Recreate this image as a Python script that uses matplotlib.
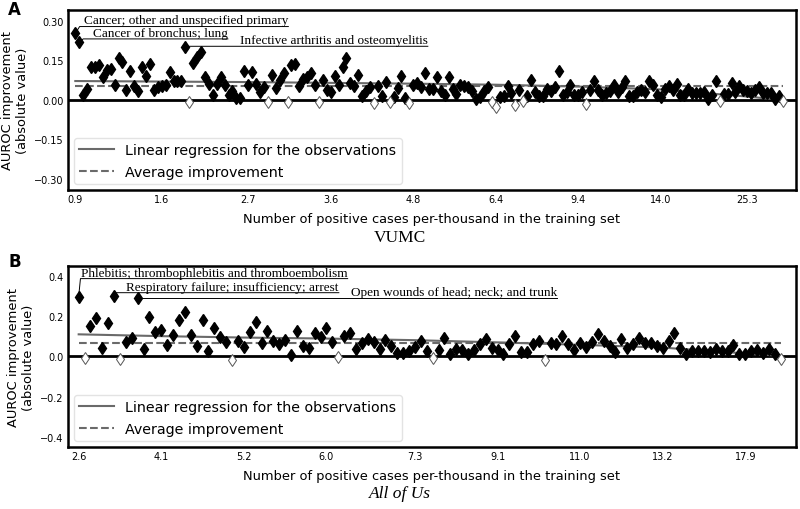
import numpy as np
import matplotlib.pyplot as plt

# VUMC: AUROC improvement per phenotype, ordered by positive cases per-thousand
vumc_values = [
    0.253, 0.219, 0.019, 0.042, 0.127, 0.124, 0.133, 0.086, 0.114, 0.118,
    0.057, 0.158, 0.146, 0.038, 0.111, 0.052, 0.033, 0.127, 0.090, 0.137,
    0.038, 0.048, 0.054, 0.057, 0.105, 0.073, 0.071, 0.071, 0.200, -0.009,
    0.139, 0.162, 0.181, 0.089, 0.061, 0.020, 0.061, 0.086, 0.057, 0.019,
    0.033, 0.008, 0.008, 0.111, 0.057, 0.108, 0.061, 0.029, 0.048, -0.008,
    0.095, 0.046, 0.076, 0.103, -0.009, 0.133, 0.137, 0.052, 0.080, 0.089,
    0.103, 0.058, -0.009, 0.076, 0.038, 0.032, 0.092, 0.058, 0.124, 0.158,
    0.065, 0.052, 0.096, 0.016, 0.035, 0.048, -0.012, 0.054, 0.016, 0.070,
    -0.007, 0.013, 0.046, 0.092, 0.008, -0.012, 0.058, 0.063, 0.051, 0.101,
    0.042, 0.042, 0.086, 0.035, 0.020, 0.089, 0.042, 0.023, 0.058, 0.054,
    0.051, 0.033, 0.004, 0.013, 0.033, 0.051, -0.009, -0.028, 0.010, 0.016,
    0.054, 0.027, -0.018, 0.038, -0.003, 0.016, 0.076, 0.032, 0.016, 0.016,
    0.042, 0.033, 0.050, 0.112, 0.019, 0.032, 0.058, 0.019, 0.019, 0.029,
    -0.015, 0.039, 0.071, 0.038, 0.020, 0.025, 0.035, 0.057, 0.032, 0.051,
    0.071, 0.014, 0.014, 0.029, 0.038, 0.029, 0.071, 0.058, 0.019, 0.013,
    0.042, 0.054, 0.038, 0.061, 0.020, 0.020, 0.042, 0.027, 0.027, 0.027,
    0.032, 0.004, 0.019, 0.071, -0.003, 0.023, 0.023, 0.065, 0.029, 0.052,
    0.038, 0.033, 0.027, 0.038, 0.048, 0.027, 0.027, 0.027, 0.004, 0.016,
    -0.005,
]
vumc_tick_pos = [0, 22, 44, 65, 86, 107, 128, 149, 171]
vumc_tick_labels = ["0.9", "1.6", "2.7", "3.6", "4.8", "6.4", "9.4", "14.0", "25.3"]
vumc_reg_pos = [0, 22, 44, 65, 86, 107, 128, 149, 171, 180]
vumc_reg_val = [0.072, 0.070, 0.068, 0.065, 0.062, 0.058, 0.051, 0.040, 0.013, 0.0]
vumc_avg = 0.053
vumc_notes = [
    # point index, text, text start, line start, line height
    (0, "Cancer; other and unspecified primary", 2.2, 1.1, 0.279),
    (1, "Cancer of bronchus; lung", 4.5, 2.0, 0.232),
    (28, "Infective arthritis and osteomyelitis", 41.9, 29.1, 0.204),
]

# All of Us
aou_values = [
    0.298, -0.010, 0.153, 0.190, 0.040, 0.167, 0.303, -0.013, 0.073, 0.090,
    0.290, 0.037, 0.195, 0.123, 0.132, 0.057, 0.108, 0.183, 0.223, 0.108,
    0.053, 0.182, 0.028, 0.142, 0.098, 0.073, -0.017, 0.075, 0.048, 0.120,
    0.170, 0.067, 0.125, 0.078, 0.062, 0.083, 0.009, 0.126, 0.052, 0.044,
    0.117, 0.097, 0.142, 0.072, -0.004, 0.104, 0.115, 0.036, 0.067, 0.087,
    0.072, 0.039, 0.082, 0.053, 0.018, 0.019, 0.025, 0.046, 0.076, 0.026,
    -0.008, 0.030, 0.093, 0.010, 0.038, 0.030, 0.013, 0.030, 0.060, 0.088,
    0.043, 0.030, 0.010, 0.060, 0.102, 0.022, 0.022, 0.063, 0.077, -0.017,
    0.068, 0.060, 0.102, 0.063, 0.033, 0.067, 0.047, 0.072, 0.110, 0.077,
    0.052, 0.022, 0.088, 0.042, 0.063, 0.093, 0.067, 0.067, 0.050, 0.042,
    0.077, 0.117, 0.042, 0.010, 0.027, 0.027, 0.027, 0.022, 0.038, 0.025,
    0.025, 0.058, 0.013, 0.010, 0.025, 0.030, 0.018, 0.035, 0.013, -0.012,
]
aou_tick_pos = [0, 14, 28, 42, 57, 71, 85, 99, 113]
aou_tick_labels = ["2.6", "4.1", "5.2", "6.0", "7.3", "9.1", "11.0", "13.2", "17.9"]
aou_reg_pos = [0, 14, 28, 42, 57, 71, 85, 99, 113, 119]
aou_reg_val = [0.110, 0.101, 0.094, 0.089, 0.081, 0.070, 0.058, 0.044, 0.015, 0.003]
aou_avg = 0.067
aou_notes = [
    (0, "Phlebitis; thrombophlebitis and thromboembolism", 0.4, 0.3, 0.387),
    (6, "Respiratory failure; insufficiency; arrest", 8.1, 6.4, 0.317),
    (10, "Open wounds of head; neck; and trunk", 46.1, 10.3, 0.290),
]

serif = "Liberation Serif"
fig = plt.figure(figsize=(8, 5.1), dpi=100)
axA = fig.add_axes([0.085, 0.6255, 0.91, 0.353])
axB = fig.add_axes([0.085, 0.1216, 0.91, 0.355])


def draw_panel(ax, values, tick_pos, tick_labels, reg_pos, reg_val, avg, notes,
               xlim, ylim, yticks, yfmt):
    values = np.array(values)
    idx = np.arange(len(values))
    neg = values < 0
    ax.axhline(0, color="black", lw=2, zorder=1)
    ax.plot(idx[~neg], values[~neg], "d", color="black", ms=6.5, zorder=3)
    ax.plot(idx[neg], values[neg], "d", mfc="white", mec="#555555", ms=6,
            mew=0.7, zorder=3)
    ax.plot(reg_pos, reg_val, color="#6a6a6a", lw=1.5, zorder=2,
            label="Linear regression for the observations")
    ax.plot([0, len(values) - 1], [avg, avg], color="#6a6a6a", lw=1.5, ls="--",
            zorder=2, label="Average improvement")
    ax.set_xlim(*xlim)
    ax.set_ylim(*ylim)
    ax.set_xticks(tick_pos)
    ax.set_xticklabels(tick_labels)
    ax.set_yticks(yticks)
    ax.set_yticklabels([yfmt.format(v).replace("-", "\u2212") for v in yticks])
    ax.tick_params(length=0, labelsize=7, pad=3)
    for s in ax.spines.values():
        s.set_linewidth(1.8)
    ax.set_xlabel("Number of positive cases per-thousand in the training set",
                  fontsize=9.4, labelpad=6)
    ax.set_ylabel("AUROC improvement\n(absolute value)", fontsize=9.4, labelpad=4)
    ax.legend(loc="lower left", fontsize=10.3, handlelength=2.4,
              edgecolor="#dddddd", borderaxespad=0.4)

    for i, text, xt, xl, yl in notes:
        t = ax.annotate(text, xy=(xt, yl), xytext=(0, 2.2),
                        textcoords="offset points", va="baseline",
                        family=serif, fontsize=9.5)
        fig.canvas.draw()
        bb = t.get_window_extent().transformed(ax.transData.inverted())
        ax.plot([i, xl, bb.x1], [values[i], yl, yl], color="black", lw=0.7,
                zorder=2)


draw_panel(axA, vumc_values, vumc_tick_pos, vumc_tick_labels, vumc_reg_pos,
           vumc_reg_val, vumc_avg, vumc_notes, (-1.86, 183.4), (-0.342, 0.342),
           [-0.30, -0.15, 0.0, 0.15, 0.30], "{:.2f}")
draw_panel(axB, aou_values, aou_tick_pos, aou_tick_labels, aou_reg_pos,
           aou_reg_val, aou_avg, aou_notes, (-1.81, 121.6), (-0.45, 0.45),
           [-0.4, -0.2, 0.0, 0.2, 0.4], "{:.1f}")

fig.text(0.5, 1 - 238 / 510, "VUMC", family=serif, fontsize=12.5,
         ha="center", va="center")
fig.text(0.5, 1 - 494 / 510, "All of Us", family=serif, style="italic",
         fontsize=12.5, ha="center", va="center")
fig.text(0.01, 1 - 10 / 510, "A", fontsize=12, weight="bold", va="center")
fig.text(0.01, 1 - 262 / 510, "B", fontsize=12, weight="bold", va="center")

fig.savefig("out.png", dpi=100)
